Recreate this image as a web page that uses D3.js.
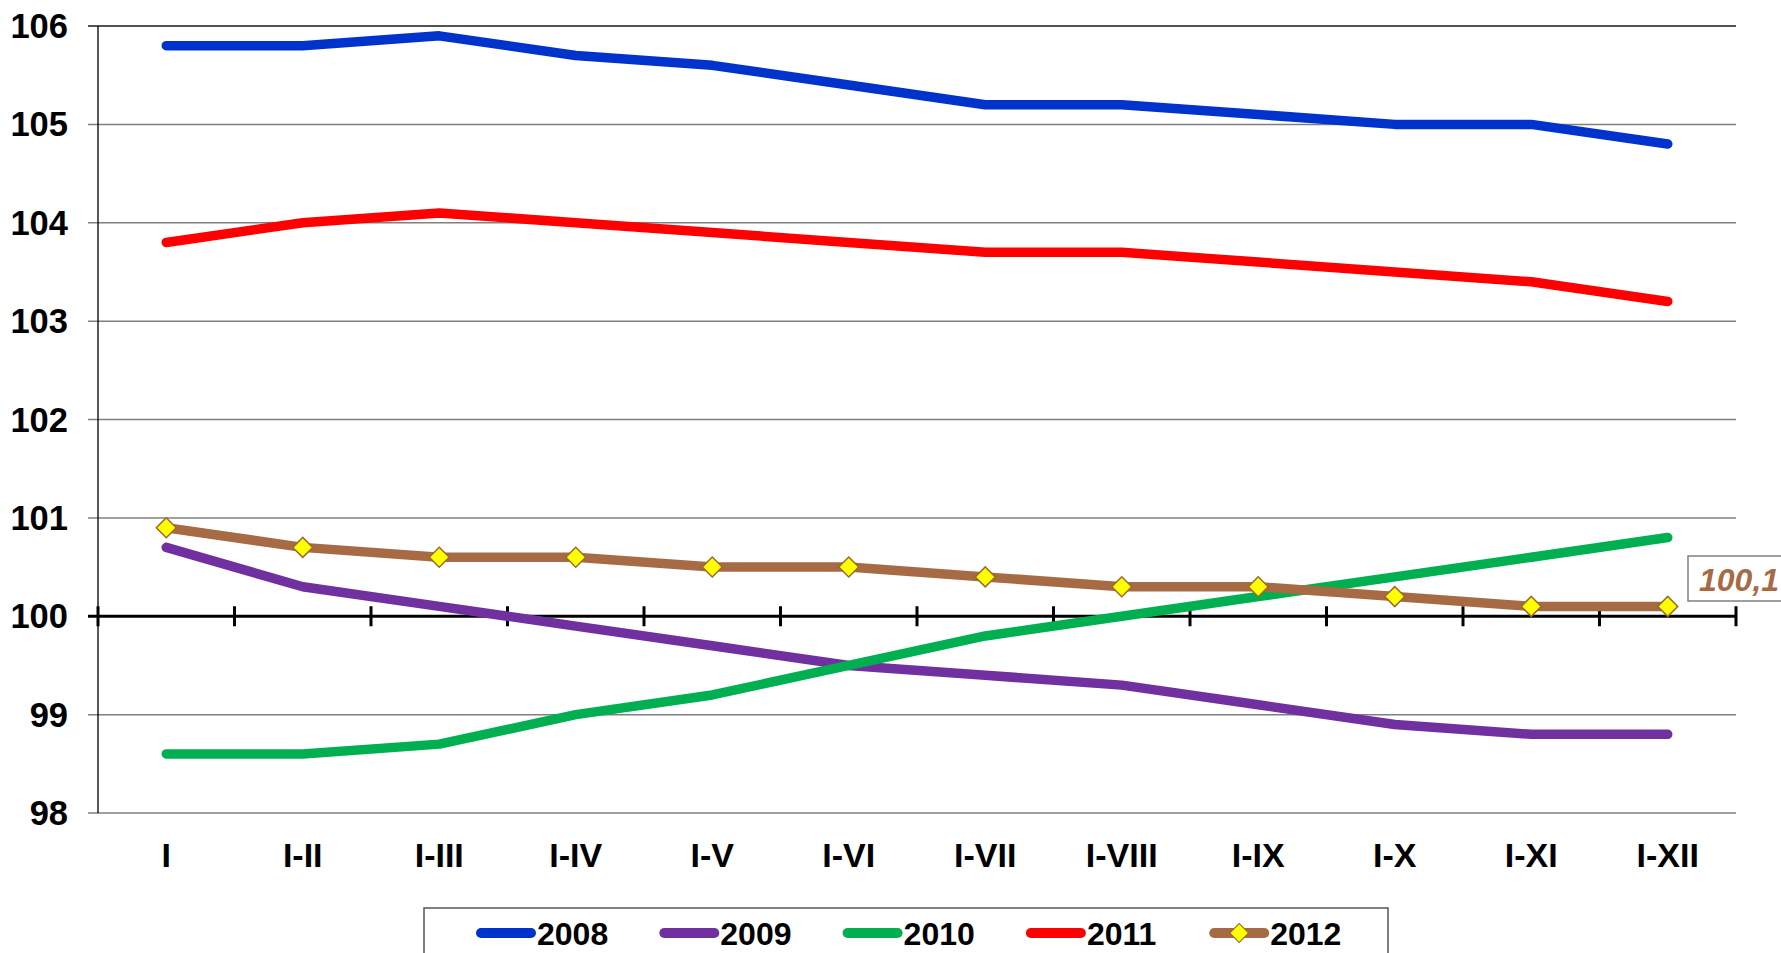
<!DOCTYPE html>
<html>
<head>
<meta charset="utf-8">
<script src="https://cdn.jsdelivr.net/npm/d3@7"></script>
<style>
  html, body { margin: 0; padding: 0; background: #fff; }
  svg { display: block; font-family: "Liberation Sans", Arial, sans-serif; }
</style>
</head>
<body>
<div id="chart"></div>
<script>
const categories = ["I", "I-II", "I-III", "I-IV", "I-V", "I-VI", "I-VII", "I-VIII", "I-IX", "I-X", "I-XI", "I-XII"];
const yTicks = [98, 99, 100, 101, 102, 103, 104, 105, 106];

const v2008 = [105.8, 105.8, 105.9, 105.7, 105.6, 105.4, 105.2, 105.2, 105.1, 105.0, 105.0, 104.8];
const v2009 = [100.7, 100.3, 100.1, 99.9, 99.7, 99.5, 99.4, 99.3, 99.1, 98.9, 98.8, 98.8];
const v2010 = [98.6, 98.6, 98.7, 99.0, 99.2, 99.5, 99.8, 100.0, 100.2, 100.4, 100.6, 100.8];
const v2011 = [103.8, 104.0, 104.1, 104.0, 103.9, 103.8, 103.7, 103.7, 103.6, 103.5, 103.4, 103.2];
const v2012 = [100.9, 100.7, 100.6, 100.6, 100.5, 100.5, 100.4, 100.3, 100.3, 100.2, 100.1, 100.1];

const seriesNames = ["2008", "2009", "2010", "2011", "2012"];
const seriesValues = [v2008, v2009, v2010, v2011, v2012];
const seriesColors = ["#0033cc", "#7030a0", "#00b050", "#ff0000", "#a66b45"];
const lastLabel = "100,1";

const W = 1781, H = 953;
const mLeft = 98, mRight = 1736, mTop = 26, mBottom = 813;

const svg = d3.select("#chart").append("svg").attr("width", W).attr("height", H);

const x = d3.scaleBand().domain(categories).range([mLeft, mRight]);
const y = d3.scaleLinear().domain([98, 106]).range([mBottom, mTop]);
const cx = (c) => x(c) + x.bandwidth() / 2;

// gridlines
svg.append("g")
  .selectAll("line")
  .data(yTicks.filter((t) => t !== 100))
  .join("line")
  .attr("x1", mLeft - 10)
  .attr("x2", mRight)
  .attr("y1", (d) => y(d))
  .attr("y2", (d) => y(d))
  .attr("stroke", (d) => (d === 106 ? "#1a1a1a" : "#808080"))
  .attr("stroke-width", 1.5);

// left axis line
svg.append("line")
  .attr("x1", mLeft).attr("x2", mLeft)
  .attr("y1", mTop).attr("y2", mBottom)
  .attr("stroke", "#000").attr("stroke-width", 1.3);

// y labels
svg.append("g")
  .selectAll("text")
  .data(yTicks)
  .join("text")
  .attr("x", 68)
  .attr("y", (d) => y(d) + 12)
  .attr("text-anchor", "end")
  .attr("font-size", 34.5)
  .attr("font-weight", "bold")
  .text((d) => d);

// x axis at 100 with crossing ticks
const xAxis = d3.axisBottom(x).tickSize(0).tickFormat("");
const gx = svg.append("g").attr("transform", `translate(0,${y(100)})`).call(xAxis);
gx.select(".domain").attr("stroke", "#000").attr("stroke-width", 3).attr("d", `M${mLeft - 10},0H${mRight}`);
const bounds = categories.map((c) => x(c)).concat([mRight]);
gx.selectAll(".bnd")
  .data(bounds)
  .join("line")
  .attr("class", "bnd")
  .attr("x1", (d) => d).attr("x2", (d) => d)
  .attr("y1", -10).attr("y2", 10)
  .attr("stroke", "#000").attr("stroke-width", 3);

// x labels
svg.append("g")
  .selectAll("text")
  .data(categories)
  .join("text")
  .attr("x", (d) => cx(d))
  .attr("y", 867)
  .attr("text-anchor", "middle")
  .attr("font-size", 34)
  .attr("font-weight", "bold")
  .text((d) => d);

// lines
const line = d3.line().x((d, i) => cx(categories[i])).y((d) => y(d));
seriesValues.forEach((vals, k) => {
  svg.append("path")
    .datum(vals)
    .attr("d", line)
    .attr("fill", "none")
    .attr("stroke", seriesColors[k])
    .attr("stroke-width", 9.5)
    .attr("stroke-linecap", "round")
    .attr("stroke-linejoin", "round");
});

// markers for 2012
svg.append("g")
  .selectAll("path")
  .data(v2012)
  .join("path")
  .attr("d", d3.symbol().type(d3.symbolSquare).size(200))
  .attr("transform", (d, i) => `translate(${cx(categories[i])},${y(d)}) rotate(45)`)
  .attr("fill", "#ffff00")
  .attr("stroke", "#9b6a2c")
  .attr("stroke-width", 1.5);

// data label box
svg.append("rect")
  .attr("x", 1688).attr("y", 556)
  .attr("width", 110).attr("height", 45)
  .attr("fill", "#fff").attr("stroke", "#808080").attr("stroke-width", 1.5);
svg.append("text")
  .attr("x", 1699).attr("y", 591)
  .attr("font-size", 32)
  .attr("font-weight", "bold")
  .attr("font-style", "italic")
  .attr("fill", "#a66b45")
  .text(lastLabel);

// legend
svg.append("rect")
  .attr("x", 424).attr("y", 908)
  .attr("width", 964).attr("height", 60)
  .attr("fill", "#fff").attr("stroke", "#555").attr("stroke-width", 1.5);
const lg = svg.append("g")
  .selectAll("g")
  .data(seriesNames)
  .join("g")
  .attr("transform", (d, i) => `translate(${477 + i * 183.3},933)`);
lg.append("line")
  .attr("x1", 4).attr("x2", 54)
  .attr("stroke", (d, i) => seriesColors[i])
  .attr("stroke-width", 10)
  .attr("stroke-linecap", "round");
lg.filter((d) => d === "2012")
  .append("path")
  .attr("d", d3.symbol().type(d3.symbolSquare).size(180))
  .attr("transform", "translate(29,0) rotate(45)")
  .attr("fill", "#ffff00")
  .attr("stroke", "#9b6a2c")
  .attr("stroke-width", 1.2);
lg.append("text")
  .attr("x", 60).attr("y", 12)
  .attr("font-size", 32)
  .attr("font-weight", "bold")
  .text((d) => d);
</script>
</body>
</html>
